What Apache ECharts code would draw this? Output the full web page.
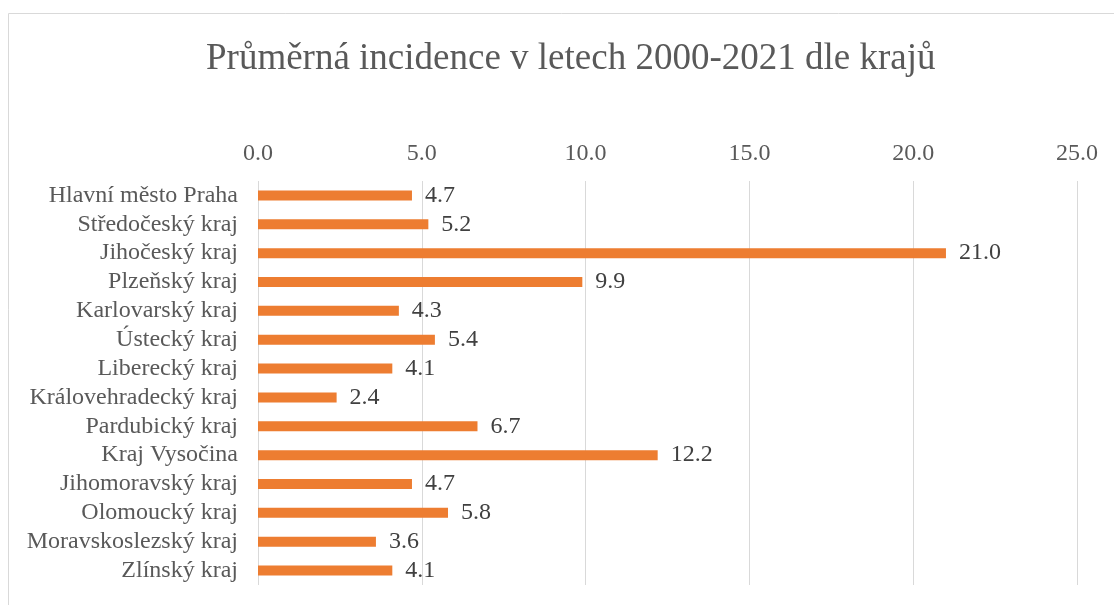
<!DOCTYPE html>
<html>
<head>
<meta charset="utf-8">
<script src="https://cdn.jsdelivr.net/npm/echarts@6/dist/echarts.min.js"></script>
<style>
  html, body { margin: 0; padding: 0; background: #fff; }
  #chart { width: 1114px; height: 605px; }
</style>
</head>
<body>
<div id="chart"></div>
<script>
const regions = [
  'Hlavní město Praha', 'Středočeský kraj', 'Jihočeský kraj', 'Plzeňský kraj',
  'Karlovarský kraj', 'Ústecký kraj', 'Liberecký kraj', 'Královehradecký kraj',
  'Pardubický kraj', 'Kraj Vysočina', 'Jihomoravský kraj', 'Olomoucký kraj',
  'Moravskoslezský kraj', 'Zlínský kraj',
];
const incidence = [4.7, 5.2, 21.0, 9.9, 4.3, 5.4, 4.1, 2.4, 6.7, 12.2, 4.7, 5.8, 3.6, 4.1];
const axisMin = 0;
const axisMax = 25;
const axisStep = 5;

const font = '"Liberation Serif", "Times New Roman", serif';
const chart = echarts.init(document.getElementById('chart'));

chart.setOption({
  animation: false,
  title: {
    text: 'Průměrná incidence v letech 2000-2021 dle krajů',
    left: 201,
    top: 36,
    textStyle: {
      fontFamily: font,
      fontSize: 37,
      fontWeight: 'normal',
      color: '#595959',
    },
  },
  graphic: [
    {
      type: 'rect',
      shape: { x: 8.5, y: 13.5, width: 1120, height: 600 },
      style: { fill: 'none', stroke: '#d9d9d9', lineWidth: 1 },
      silent: true,
    },
  ],
  grid: {
    left: 258,
    right: 37,
    top: 181,
    height: 404,
  },
  xAxis: {
    type: 'value',
    position: 'top',
    min: axisMin,
    max: axisMax,
    interval: axisStep,
    axisLine: { show: false },
    axisTick: { show: false },
    axisLabel: {
      margin: 15,
      fontFamily: font,
      fontSize: 24,
      color: '#595959',
      formatter: (v) => v.toFixed(1),
    },
    splitLine: { lineStyle: { color: '#d9d9d9', width: 1 } },
  },
  yAxis: {
    type: 'category',
    inverse: true,
    data: regions,
    axisLine: { show: false },
    axisTick: { show: false },
    axisLabel: {
      interval: 0,
      margin: 20,
      fontFamily: font,
      fontSize: 24,
      color: '#595959',
    },
  },
  series: [
    {
      type: 'bar',
      data: incidence,
      barWidth: 10,
      itemStyle: { color: '#ed7d31' },
      label: {
        show: true,
        position: 'right',
        distance: 13,
        fontFamily: font,
        fontSize: 24,
        color: '#404040',
        formatter: (p) => p.value.toFixed(1),
      },
    },
  ],
});
</script>
</body>
</html>
